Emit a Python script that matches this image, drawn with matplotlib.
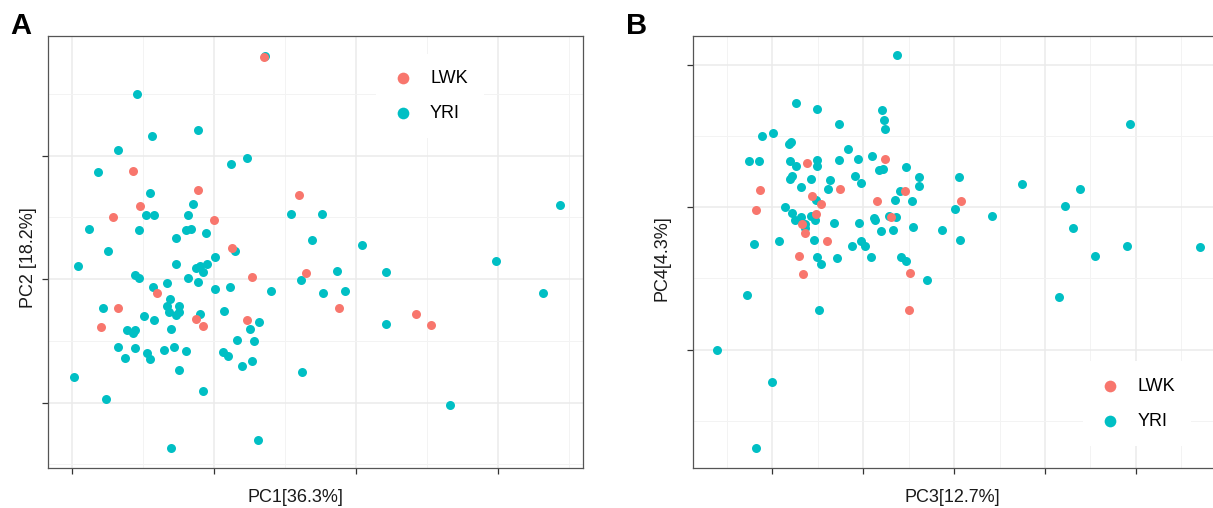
#!/usr/bin/env python3
# encoding: utf-8
import matplotlib
matplotlib.use("Agg")
from matplotlib import pyplot as plt

plt.rcParams["font.family"] = ["Liberation Sans", "DejaVu Sans"]

LWK_COLOR = "#F8766D"
YRI_COLOR = "#00BFC4"

# panel A: PC1 vs PC2 (units: one major grid step)
pc1_yri = [0.36, -0.54, -0.11, -0.44, -0.68, -0.82, 0.23, 0.12, -0.45, -0.15,
           2.44, -0.48, -0.42, -0.18, 0.54, 0.76, -0.88, -0.53, -0.20, -0.16,
           -0.06, -0.27, 0.69, 1.04, -0.75, 0.15, 0.01, 1.99, -0.96, -0.27,
           -0.13, -0.10, -0.08, -0.05, -0.56, -0.53, -0.18, -0.11, -0.33, -0.43,
           0.87, 1.21, 0.61, 0.01, 0.11, 0.40, 0.77, 0.92, 2.32, -0.31,
           -0.33, -0.25, -0.78, -0.32, -0.27, -0.25, 0.07, -0.49, -0.42, -0.10,
           0.32, 1.21, -0.30, 0.25, -0.61, -0.57, -0.56, 0.16, 0.28, -0.68,
           -0.56, -0.35, -0.28, -0.20, -0.63, -0.47, -0.45, 0.06, 0.10, 0.27,
           0.20, -0.25, 0.62, -0.99, -0.76, -0.08, 1.66, 0.31, -0.30]
pc2_yri = [1.81, 1.50, 1.21, 1.16, 1.05, 0.87, 0.98, 0.93, 0.70, 0.61,
           0.60, 0.52, 0.52, 0.52, 0.53, 0.53, 0.41, 0.40, 0.40, 0.41,
           0.37, 0.33, 0.32, 0.28, 0.23, 0.23, 0.18, 0.15, 0.11, 0.12,
           0.09, 0.11, 0.06, 0.12, 0.03, 0.01, 0.01, -0.02, -0.03, -0.06,
           0.07, 0.06, -0.01, -0.08, -0.06, -0.10, -0.11, -0.10, -0.11, -0.16,
           -0.22, -0.22, -0.23, -0.27, -0.29, -0.27, -0.26, -0.30, -0.33, -0.28,
           -0.35, -0.36, -0.40, -0.40, -0.41, -0.44, -0.41, -0.49, -0.50, -0.55,
           -0.56, -0.57, -0.55, -0.58, -0.64, -0.60, -0.65, -0.59, -0.62, -0.66,
           -0.70, -0.74, -0.75, -0.79, -0.97, -0.91, -1.02, -1.30, -1.37]
pc1_lwk = [0.35, -0.57, -0.11, 0.60, -0.52, -0.71, 0.00, 0.13, 0.27, 0.65,
           -0.40, -0.68, 0.88, -0.13, 0.23, 1.42, 1.53, -0.80, -0.08]
pc2_lwk = [1.80, 0.88, 0.72, 0.68, 0.59, 0.50, 0.48, 0.25, 0.02, 0.05,
           -0.11, -0.23, -0.23, -0.32, -0.33, -0.28, -0.37, -0.39, -0.38]

# panel B: PC3 vs PC4
pc3_yri = [0.37, -0.74, -0.51, 0.21, 0.23, 0.24, -0.26, 2.93, -1.11, -0.99,
           -0.81, -0.79, -0.17, -1.25, -1.14, -0.80, -0.74, -0.51, -0.51, -0.26,
           -0.06, 0.10, 0.18, 0.22, 0.47, -0.80, -0.78, -0.57, -0.09, -0.36,
           -0.02, 0.61, 0.62, 1.05, 1.75, 2.38, -0.68, -0.39, 0.41, -0.52,
           0.35, 0.54, -0.86, -0.78, 1.01, 2.22, -0.57, 0.29, 0.36, -0.68,
           -0.75, -0.53, -0.32, -0.05, 0.12, 0.13, 1.42, -0.64, -0.64, 0.55,
           2.31, 0.20, 0.33, 0.87, -1.20, -0.92, -0.54, -0.12, -0.02, 0.02,
           1.06, 2.90, 3.70, -0.51, -0.29, 0.09, 0.42, 0.47, 2.55, -0.46,
           0.70, -1.28, -0.48, 2.15, -1.61, -1.00, -1.18]
pc4_yri = [1.07, 0.73, 0.69, 0.68, 0.61, 0.55, 0.58, 0.58, 0.50, 0.52,
           0.44, 0.46, 0.41, 0.32, 0.32, 0.32, 0.29, 0.33, 0.29, 0.33,
           0.34, 0.36, 0.26, 0.27, 0.28, 0.20, 0.22, 0.20, 0.22, 0.19,
           0.17, 0.21, 0.15, 0.21, 0.16, 0.13, 0.14, 0.13, 0.11, 0.05,
           0.05, 0.04, 0.00, -0.04, -0.01, 0.01, -0.06, -0.06, -0.07, -0.07,
           -0.09, -0.09, -0.11, -0.11, -0.08, -0.09, -0.06, -0.12, -0.15, -0.14,
           -0.15, -0.17, -0.16, -0.16, -0.26, -0.24, -0.23, -0.27, -0.24, -0.27,
           -0.23, -0.27, -0.28, -0.35, -0.36, -0.35, -0.35, -0.38, -0.34, -0.40,
           -0.51, -0.62, -0.72, -0.63, -1.00, -1.23, -1.69]
pc3_lwk = [-0.62, 0.24, -1.13, -0.25, 0.46, -0.56, -0.46, 0.15, 1.08, -1.18,
           -0.52, 0.31, -0.67, -0.64, -0.40, -0.71, 0.52, -0.66, 0.51]
pc4_lwk = [0.31, 0.34, 0.12, 0.13, 0.11, 0.08, 0.02, 0.04, 0.04, -0.02,
           -0.05, -0.07, -0.12, -0.18, -0.24, -0.34, -0.46, -0.47, -0.72]

W, H = 1213, 508


def panel(rect, x_yri, y_yri, x_lwk, y_lwk, xlim, ylim, xmajor, xminor,
          ymajor, yminor, xlabel, ylabel, xlab_pos, ylab_pos, leg_pos):
    x0, x1, y0, y1 = rect
    ax = fig.add_axes([x0 / W, (H - y1) / H, (x1 - x0) / W, (y1 - y0) / H])
    ax.set_xlim(xlim)
    ax.set_ylim(ylim)
    ax.set_xticks(xmajor)
    ax.set_xticks(xminor, minor=True)
    ax.set_yticks(ymajor)
    ax.set_yticks(yminor, minor=True)
    ax.grid(which="major", color="#ebebeb", linewidth=1.1)
    ax.grid(which="minor", color="#f3f3f3", linewidth=0.7)
    ax.set_axisbelow(True)
    ax.tick_params(which="major", length=4.5, width=0.9, color="#333333",
                   labelbottom=False, labelleft=False)
    ax.tick_params(which="minor", length=0)
    for s in ax.spines.values():
        s.set_color("#555555")
        s.set_linewidth(0.9)

    ax.scatter(x_yri, y_yri, s=42, color=YRI_COLOR, linewidths=0, label="YRI", zorder=3)
    ax.scatter(x_lwk, y_lwk, s=42, color=LWK_COLOR, linewidths=0, label="LWK", zorder=3)

    ax.set_xlabel(xlabel, fontsize=13, color="#1a1a1a", va="center")
    ax.set_ylabel(ylabel, fontsize=13, color="#1a1a1a", va="center")
    ax.xaxis.set_label_coords(*xlab_pos)
    ax.yaxis.set_label_coords(*ylab_pos)

    h, l = ax.get_legend_handles_labels()
    leg = ax.legend(h[::-1], l[::-1], loc="center", bbox_to_anchor=leg_pos,
                    fontsize=13, frameon=True, fancybox=False, framealpha=1,
                    edgecolor="none", labelspacing=1.0, handletextpad=0.9,
                    handlelength=1.2, borderpad=0.9, markerscale=1.3)
    leg.set_zorder(5)
    return ax


fig = plt.figure(figsize=(W / 100, H / 100), dpi=100)

panel((48, 583, 36, 468), pc1_yri, pc2_yri, pc1_lwk, pc2_lwk,
      (-1.17, 2.60), (-1.53, 1.97),
      [-1, 0, 1, 2], [-0.5, 0.5, 1.5, 2.5],
      [-1, 0, 1], [-1.5, -0.5, 0.5, 1.5],
      "PC1[36.3%]", "PC2 [18.2%]",
      (0.462, -0.069), (-0.037, 0.486), (0.714, 0.861))

panel((693, 1216, 36, 468), pc3_yri, pc4_yri, pc3_lwk, pc4_lwk,
      (-1.87, 3.88), (-1.83, 1.20),
      [-1, 0, 1, 2, 3], [-1.5, -0.5, 0.5, 1.5, 2.5, 3.5],
      [-1, 0, 1], [-1.5, -0.5, 0.5],
      "PC3[12.7%]", "PC4[4.3%]",
      (0.496, -0.069), (-0.059, 0.486), (0.849, 0.149))

fig.text(10 / W, 1 - 26 / H, "A", fontsize=21, fontweight="bold", va="center")
fig.text(626 / W, 1 - 26 / H, "B", fontsize=21, fontweight="bold", va="center")

plt.savefig("out.png", dpi=100)
plt.close()
